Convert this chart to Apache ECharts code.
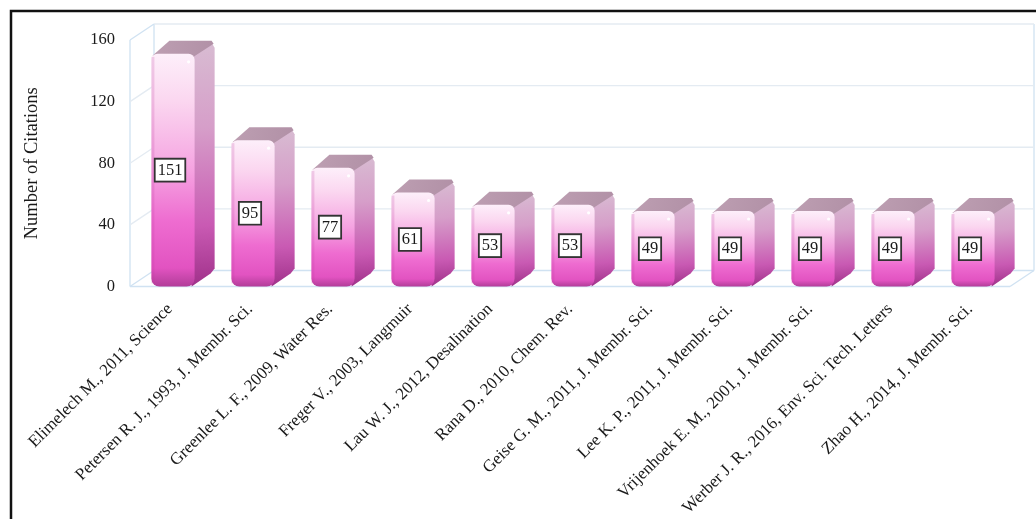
<!DOCTYPE html>
<html>
<head>
<meta charset="utf-8">
<script src="https://cdn.jsdelivr.net/npm/echarts@6/dist/echarts.min.js"></script>
<style>
  html, body { margin: 0; padding: 0; background: #fff; }
  #chart { width: 1036px; height: 519px; }
</style>
</head>
<body>
<div id="chart"></div>
<script>
// Most-cited papers and their citation counts
const papers = [
  'Elimelech M., 2011, Science',
  'Petersen R. J., 1993, J. Membr. Sci.',
  'Greenlee L. F., 2009, Water Res.',
  'Freger V., 2003, Langmuir',
  'Lau W. J., 2012, Desalination',
  'Rana D., 2010, Chem. Rev.',
  'Geise G. M., 2011, J. Membr. Sci.',
  'Lee K. P., 2011, J. Membr. Sci.',
  'Vrijenhoek E. M., 2001, J. Membr. Sci.',
  'Werber J. R., 2016, Env. Sci. Tech. Letters',
  'Zhao H., 2014, J. Membr. Sci.'
];
const citations = [151, 95, 77, 61, 53, 53, 49, 49, 49, 49, 49];
const yTicks = [0, 40, 80, 120, 160];

const SERIF = '"Liberation Serif", "Times New Roman", "DejaVu Serif", serif';

// depth of the 3D box (walls) and of each bar
const WALL_DX = 24, WALL_DY = -16;
const BAR_DX = 20, BAR_DY = -14;

const chart = echarts.init(document.getElementById('chart'), null, { renderer: 'canvas' });

function wallItem(params, api) {
  const v = api.value(0);
  const band = api.size([1, 0])[0];
  const n = papers.length;
  const p0 = api.coord([0, v]);
  const p1 = api.coord([n - 1, v]);
  const xl = p0[0] - band / 2;
  const xr = p1[0] + band / 2;
  const y = p0[1];
  const top = api.coord([0, 160])[1];
  const bottom = api.coord([0, 0])[1];
  const children = [];
  const grid = { stroke: '#e4ebf2', lineWidth: 1.3 };
  const edge = { stroke: '#d0e2f2', lineWidth: 1.3 };
  if (v > 0 && v < 160) {
    children.push({ type: 'line', shape: { x1: xl + WALL_DX, y1: y + WALL_DY, x2: xr + WALL_DX, y2: y + WALL_DY }, style: grid });
    children.push({ type: 'line', shape: { x1: xl, y1: y, x2: xl + WALL_DX, y2: y + WALL_DY }, style: grid });
  }
  if (v === 160) {
    children.push({ type: 'line', shape: { x1: xl + WALL_DX, y1: y + WALL_DY, x2: xr + WALL_DX, y2: y + WALL_DY }, style: grid });
    children.push({ type: 'line', shape: { x1: xl, y1: y, x2: xl + WALL_DX, y2: y + WALL_DY }, style: edge });
  }
  if (v === 0) {
    // floor and wall edges
    children.push({ type: 'line', shape: { x1: xl, y1: y, x2: xr, y2: y }, style: edge });
    children.push({ type: 'line', shape: { x1: xl + WALL_DX, y1: y + WALL_DY, x2: xr + WALL_DX, y2: y + WALL_DY }, style: edge });
    children.push({ type: 'line', shape: { x1: xl, y1: y, x2: xl + WALL_DX, y2: y + WALL_DY }, style: edge });
    children.push({ type: 'line', shape: { x1: xr, y1: y, x2: xr + WALL_DX, y2: y + WALL_DY }, style: edge });
    children.push({ type: 'line', shape: { x1: xl, y1: bottom, x2: xl, y2: top }, style: edge });
    children.push({ type: 'line', shape: { x1: xl + WALL_DX, y1: bottom + WALL_DY, x2: xl + WALL_DX, y2: top + WALL_DY }, style: edge });
    children.push({ type: 'line', shape: { x1: xr + WALL_DX, y1: bottom + WALL_DY, x2: xr + WALL_DX, y2: top + WALL_DY }, style: edge });
  }
  return { type: 'group', children: children };
}

function barItem(params, api) {
  const idx = api.value(0);
  const val = api.value(1);
  const band = api.size([1, 0])[0];
  const base = api.coord([idx, 0]);
  const topPt = api.coord([idx, val]);
  const w = band * 0.54;
  const cx = base[0] + 3;
  const x0 = cx - w / 2, x1 = cx + w / 2;
  const yT = topPt[1], yB = base[1];
  const h = yB - yT;
  const r = 6;
  return {
    type: 'group',
    children: [
      // side face
      {
        type: 'polygon',
        shape: { points: [[x1 - 2, yT + 2], [x1 + BAR_DX - 3, yT + BAR_DY + 3], [x1 + BAR_DX, yT + BAR_DY + 8], [x1 + BAR_DX, yB + BAR_DY - 4], [x1 + BAR_DX - 4, yB + BAR_DY + 1], [x1 - 3, yB]] },
        style: {
          fill: new echarts.graphic.LinearGradient(0, 0, 0.4, 1, [
            { offset: 0, color: '#d8bcd2' },
            { offset: 0.35, color: '#d69ec9' },
            { offset: 0.75, color: '#c95ab3' },
            { offset: 1, color: '#a0318a' }
          ])
        }
      },
      // top face
      {
        type: 'polygon',
        shape: { points: [[x0 + 1, yT + 2], [x0 + BAR_DX - 2, yT + BAR_DY + 1], [x1 + BAR_DX - 3, yT + BAR_DY + 1], [x1 + BAR_DX - 1, yT + BAR_DY + 4], [x1 - 1, yT + 3]] },
        style: {
          fill: new echarts.graphic.LinearGradient(0, 0, 1, 1, [
            { offset: 0, color: '#bd9fb2' },
            { offset: 1, color: '#b190a6' }
          ])
        }
      },
      // front face
      {
        type: 'rect',
        shape: { x: x0, y: yT, width: w, height: h, r: [r, r, r + 2, r + 2] },
        style: {
          fill: new echarts.graphic.LinearGradient(0, 0, 0, 1, [
            { offset: 0, color: '#fdeffa' },
            { offset: 0.2, color: '#fbd7f0' },
            { offset: 0.5, color: '#f5a3e1' },
            { offset: 0.72, color: '#ee6cd0' },
            { offset: 0.92, color: '#e253c1' },
            { offset: 1, color: '#b23d99' }
          ])
        }
      },
      // left rim shading of the front face
      {
        type: 'rect',
        shape: { x: x0, y: yT + 3, width: 3, height: h - 6 },
        style: { fill: 'rgba(190,60,160,0.2)' }
      },
      // highlight
      {
        type: 'circle',
        shape: { cx: x1 - 6, cy: yT + 8, r: 1.6 },
        style: { fill: 'rgba(255,255,255,0.95)' }
      },
      // value label
      {
        type: 'text',
        x: cx - 3,
        y: yT + h / 2,
        style: {
          text: String(val),
          fontFamily: SERIF,
          fontSize: 16.5,
          fill: '#1a1a1a',
          align: 'center',
          verticalAlign: 'middle',
          backgroundColor: '#ffffff',
          borderColor: '#333333',
          borderWidth: 1.8,
          padding: [3, 2, 1, 2]
        }
      }
    ]
  };
}

const option = {
  backgroundColor: '#ffffff',
  animation: false,
  grid: { left: 130, right: 26, top: 40, bottom: 232, containLabel: false },
  xAxis: {
    type: 'category',
    data: papers,
    axisLine: { show: false },
    axisTick: { show: false },
    axisLabel: {
      rotate: 45,
      interval: 0,
      margin: 20,
      fontFamily: SERIF,
      fontSize: 17,
      color: '#1a1a1a'
    }
  },
  yAxis: {
    type: 'value',
    min: 0,
    max: 160,
    interval: 40,
    name: 'Number of Citations',
    nameLocation: 'middle',
    nameRotate: 90,
    nameGap: 88,
    nameTextStyle: { fontFamily: SERIF, fontSize: 18.5, color: '#1a1a1a' },
    axisLine: { show: false },
    axisTick: { show: false },
    splitLine: { show: false },
    axisLabel: { margin: 15, fontFamily: SERIF, fontSize: 16.5, color: '#1a1a1a' }
  },
  graphic: [
    {
      type: 'rect',
      shape: { x: 11, y: 11, width: 1060, height: 540 },
      style: { fill: 'none', stroke: '#111', lineWidth: 2.5 },
      z: 100
    }
  ],
  series: [
    {
      type: 'custom',
      name: 'walls',
      renderItem: wallItem,
      data: yTicks.map(v => [v]),
      encode: { y: 0 },
      silent: true,
      z: 1
    },
    {
      type: 'custom',
      name: 'Citations',
      renderItem: barItem,
      data: citations.map((v, i) => [i, v]),
      encode: { x: 0, y: 1 },
      z: 5
    }
  ]
};

chart.setOption(option);
</script>
</body>
</html>
